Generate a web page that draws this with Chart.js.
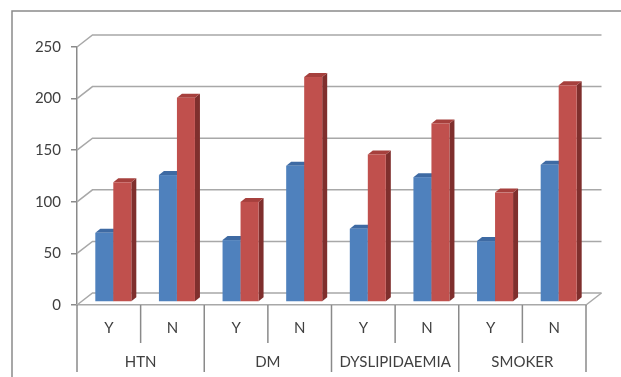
<!DOCTYPE html>
<html><head><meta charset="utf-8">
<script src="https://cdn.jsdelivr.net/npm/chart.js@4"></script>
<style>html,body{margin:0;padding:0;background:#fff;}</style>
</head><body>
<canvas id="c" width="621" height="377"></canvas>
<script>
const categories = ['Y','N','Y','N','Y','N','Y','N'];
const groups = ['HTN','DM','DYSLIPIDAEMIA','SMOKER'];
const seriesBlue = [67,123,60,132,71,121,59,133];
const seriesRed = [116,198,97,218,143,173,106,210];
const yTicks = [0,50,100,150,200,250];

const WALL = {x:15.5, y:-12};
const SHIFT = {x:4.5, y:-3};
const BDEP = {x:5, y:-4};
const COLORS = [
  {front:'#4F81BD', side:'#36598a', top:'#3e6aa3'},
  {front:'#C0504D', side:'#7f2f2d', top:'#a6403d'}
];
const FONT = {family:'Lato', size:15};
const TEXT = '#404040';

const threeD = {
  id:'threeD',
  beforeDraw(chart){
    const ctx = chart.ctx;
    ctx.save();
    ctx.fillStyle='#fff'; ctx.fillRect(0,0,chart.width,chart.height);
    ctx.strokeStyle='#8a8a8a'; ctx.lineWidth=1.5;
    ctx.strokeRect(12,11,chart.width+50,chart.height+50);
    ctx.restore();
  },
  beforeDatasetsDraw(chart){
    const {ctx, chartArea:a, scales:{y}} = chart;
    ctx.save();
    ctx.strokeStyle='#a8a8a8'; ctx.lineWidth=1.5;
    yTicks.forEach(v=>{
      const py = y.getPixelForValue(v);
      ctx.beginPath();
      ctx.moveTo(a.left,py);
      ctx.lineTo(a.left+WALL.x, py+WALL.y);
      ctx.lineTo(a.right+WALL.x, py+WALL.y);
      ctx.stroke();
    });
    const p0 = y.getPixelForValue(0);
    ctx.beginPath(); ctx.moveTo(a.right,p0); ctx.lineTo(a.right+WALL.x,p0+WALL.y); ctx.stroke();
    ctx.restore();
  },
  afterDatasetsDraw(chart){
    const ctx = chart.ctx;
    const n = chart.data.labels.length;
    ctx.save();
    for(let i=0;i<n;i++){
      for(let d=0; d<chart.data.datasets.length; d++){
        const el = chart.getDatasetMeta(d).data[i];
        const p = el.getProps(['x','y','base','width'], true);
        const L = p.x - p.width/2 + SHIFT.x, W = p.width;
        const T = p.y + SHIFT.y, B = p.base + SHIFT.y;
        const c = COLORS[d];
        // side
        ctx.fillStyle = c.side;
        ctx.beginPath();
        ctx.moveTo(L+W,T); ctx.lineTo(L+W+BDEP.x,T+BDEP.y); ctx.lineTo(L+W+BDEP.x,B+BDEP.y); ctx.lineTo(L+W,B);
        ctx.closePath(); ctx.fill();
        // top
        ctx.fillStyle = c.top;
        ctx.beginPath();
        ctx.moveTo(L,T); ctx.lineTo(L+BDEP.x,T+BDEP.y); ctx.lineTo(L+W+BDEP.x,T+BDEP.y); ctx.lineTo(L+W,T);
        ctx.closePath(); ctx.fill();
        // front
        ctx.fillStyle = c.front;
        ctx.fillRect(L,T,W,B-T);
      }
    }
    ctx.restore();
  },
  afterDraw(chart){
    const {ctx, chartArea:a, scales:{x}} = chart;
    const n = chart.data.labels.length;
    const step = (a.right - a.left)/n;
    ctx.save();
    ctx.strokeStyle='#8a8a8a'; ctx.lineWidth=1.5;
    for(let i=0;i<=n;i++){
      const px = (i<n ? x.getPixelForTick(i) - step/2 : x.getPixelForTick(n-1) + step/2);
      const bottom = (i%2===0) ? 372 : 343;
      ctx.beginPath(); ctx.moveTo(px,a.bottom); ctx.lineTo(px,bottom); ctx.stroke();
    }
    ctx.restore();
  }
};

new Chart(document.getElementById('c'), {
  type:'bar',
  data:{
    labels: categories,
    datasets:[
      {label:'Series 1', data: seriesBlue, backgroundColor:'rgba(0,0,0,0)', borderWidth:0},
      {label:'Series 2', data: seriesRed, backgroundColor:'rgba(0,0,0,0)', borderWidth:0}
    ]
  },
  options:{
    responsive:false,
    animation:false,
    categoryPercentage:0.566,
    barPercentage:1.0,
    layout:{padding:{top:47,right:35,left:0,bottom:0}},
    plugins:{legend:{display:false}, tooltip:{enabled:false}},
    scales:{
      y:{
        min:0, max:250,
        ticks:{stepSize:50, font:FONT, color:TEXT, padding:10},
        grid:{display:true, drawOnChartArea:false, drawTicks:true, tickLength:6, color:'#8a8a8a', lineWidth:1.5},
        border:{display:true, color:'#8a8a8a', width:1.5},
        afterFit(s){ s.width = 77; }
      },
      x:{
        weight:0,
        ticks:{font:FONT, color:TEXT, padding:14},
        grid:{display:false, drawTicks:false},
        border:{display:true, color:'#a8a8a8', width:1.5},
        afterFit(s){ s.height = 38; }
      },
      x2:{
        type:'category',
        labels: groups,
        position:'bottom',
        weight:1,
        offset:true,
        ticks:{font:FONT, color:TEXT, padding:10},
        grid:{display:false, drawTicks:false},
        border:{display:false},
        afterFit(s){ s.height = 34; }
      }
    }
  },
  plugins:[threeD]
});
</script>
</body></html>
